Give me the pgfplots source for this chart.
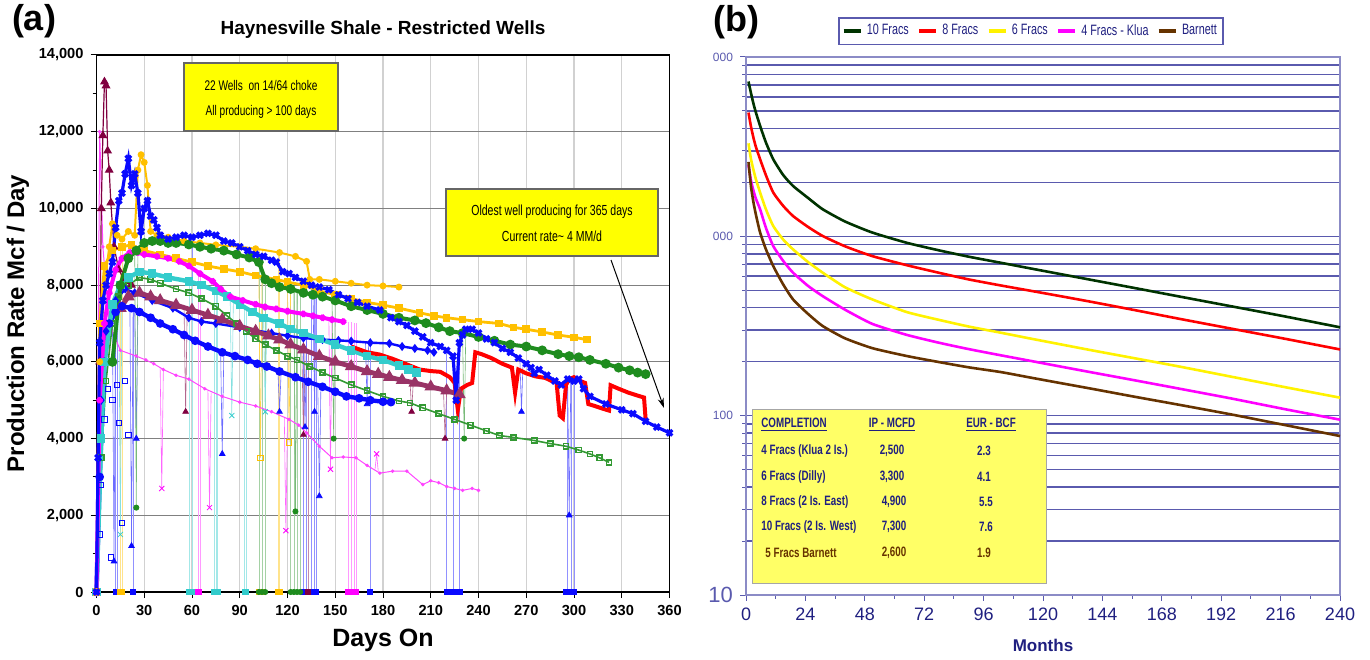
\documentclass[border=0pt]{standalone}
\usepackage{pgfplots}
\pgfplotsset{compat=1.18}
\usepackage{fontspec}
\setmainfont{Liberation Sans}
\newfontfamily\narrow[FakeStretch=0.72]{Liberation Sans}
\usetikzlibrary{arrows.meta}
\definecolor{wblue}{HTML}{0A0AFF}
\definecolor{wgreen}{HTML}{1E8C1E}
\definecolor{wgold}{HTML}{FFC000}
\definecolor{wmag}{HTML}{FF00FF}
\definecolor{wcyan}{HTML}{33CCCC}
\definecolor{wmauve}{HTML}{993366}
\definecolor{wlgreen}{HTML}{339933}
\definecolor{wpink}{HTML}{FF44FF}
\definecolor{wmaroon}{HTML}{800040}
\definecolor{wred}{HTML}{FF0000}
\definecolor{gridb}{HTML}{5A5AAE}
\definecolor{navy}{HTML}{1F1F80}
\definecolor{boxyel}{HTML}{FFFF00}
\definecolor{tabyel}{HTML}{FFFF66}
\definecolor{dkgreen}{HTML}{003300}
\definecolor{brownb}{HTML}{663300}
\begin{document}
\begin{tikzpicture}
\path[use as bounding box] (0,0) rectangle (685pt,329.5pt);
% ---------------- (a) ----------------
\begin{axis}[at={(48.25pt,33.5pt)}, anchor=south west, scale only axis,
 width=286.5pt, height=268.5pt, clip=false,
 xmin=0, xmax=360, ymin=0, ymax=14000,
 xtick={0,30,...,360}, ytick={0,2000,...,14000}, minor y tick num=1,
 scaled y ticks=false, scaled x ticks=false,
 xmajorgrids, ymajorgrids,
 x grid style={draw=black!18, line width=0.6pt},
 y grid style={draw=black!50, line width=0.6pt},
 tick align=outside, tick pos=left, tick style={black, line width=0.5pt},
 major tick length=3pt, minor tick length=2pt,
 axis line style={black, line width=0.9pt},
 ticklabel style={font=\bfseries\fontsize{7.3}{8}\selectfont},
 /pgf/number format/1000 sep={,}, /pgf/number format/assume math mode=true,
 xlabel={Days On}, ylabel={Production Rate Mcf / Day},
 xlabel style={font=\bfseries\fontsize{12.5}{13}\selectfont, at={(axis description cs:0.5,-0.09)}, anchor=center},
 ylabel style={font=\bfseries\fontsize{12}{13}\selectfont, at={(axis description cs:-0.137,0.5)}, anchor=center},
 every axis plot/.append style={mark options={solid}},
]
% shut-in drops to zero
\addplot[ycomb, wblue!45, line width=0.3pt] coordinates {(12,7300)(13,7350)(23,7400)(60,9250)(130,6620)(132,6600)(135,8000)(137,7950)(138,7900)(172,6500)(220,6300)(224,6150)(228,6500)(296,5550)(298,5500)(300,5500)};
\addplot[ycomb, wcyan!45, line width=0.3pt] coordinates {(58,8100)(60,8080)(74,7850)(75,7840)(76,7830)(93,7450)(94,7430)};
\addplot[ycomb, wgold!45, line width=0.3pt] coordinates {(15,9200)(16,9200)(102,8950)(104,8930)(114,8860)(115,8850)};
\addplot[ycomb, wgreen!40, line width=0.3pt] coordinates {(102,8600)(104,8400)(106,8150)(122,7900)(124,7880)(126,7860)(128,7840)};
\addplot[ycomb, wmag!40, line width=0.3pt] coordinates {(64,8300)(65,8280)(158,7040)(160,7030)(162,7020)(163,7010)};
\addplot[ycomb, wmaroon!45, line width=0.3pt] coordinates {(133,6300)};
% partial drops
\addplot[wblue!60, line width=0.3pt, unbounded coords=jump] coordinates {(10,7200)(11,800)(12,7300) (nan,nan) (21,7400)(22,1200)(23,7400) (nan,nan) (24,7400)(25,4000)(26,7350) (nan,nan) (78,6260)(79,3600)(80,6250) (nan,nan) (114,5760)(115,4700)(116,5750) (nan,nan) (130,6620)(131,4300)(132,6600) (nan,nan) (136,7950)(137,4700)(138,7900) (nan,nan) (139,5450)(140,2500)(141,5440) (nan,nan) (169,6510)(170,4900)(171,6500) (nan,nan) (266,6100)(267,4700)(268,6050) (nan,nan) (296,5500)(297,2000)(298,5500)};
\addplot[wmag!60, line width=0.3pt, unbounded coords=jump] coordinates {(40,5850)(41,2700)(42,5800) (nan,nan) (70,5250)(71,2200)(72,5200) (nan,nan) (118,4550)(119,1600)(120,4520) (nan,nan) (146,7100)(147,3200)(148,7100) (nan,nan) (175,3200)(176,3600)(177,3150)};
\addplot[wgreen!60, line width=0.3pt, unbounded coords=jump] coordinates {(24,8900)(25,2200)(26,8900) (nan,nan) (124,7880)(125,2100)(126,7870) (nan,nan) (148,7620)(149,4000)(150,7600) (nan,nan) (230,6750)(231,4000)(232,6750)};
\addplot[wmaroon!60, line width=0.3pt, unbounded coords=jump] coordinates {(55,7420)(56,4700)(57,7400) (nan,nan) (129,6330)(130,4100)(131,6320) (nan,nan) (197,5480)(198,4700)(199,5460) (nan,nan) (218,5270)(219,4000)(220,5260)};
\addplot[wcyan!60, line width=0.3pt, unbounded coords=jump] coordinates {(14,7900)(15,1500)(16,8000) (nan,nan) (84,7650)(85,4600)(86,7620) (nan,nan) (105,7150)(106,4700)(107,7120)};
\addplot[wgold!70, line width=0.3pt, unbounded coords=jump] coordinates {(102,8250)(103,3500)(104,8240) (nan,nan) (120,8080)(121,3900)(122,8070)};
% marks at the bottom of drops
\addplot[only marks, mark=triangle*, mark size=1.6pt, wblue] coordinates {(11,800)(22,1200)(25,4000)(79,3600)(115,4700)(131,4300)(137,4700)(140,2500)(170,4900)(267,4700)(297,2000)};
\addplot[only marks, mark=x, mark size=1.8pt, wmag] coordinates {(41,2700)(71,2200)(119,1600)(147,3200)(176,3600)};
\addplot[only marks, mark=*, mark size=1.3pt, wgreen] coordinates {(25,2200)(125,2100)(149,4000)(231,4000)};
\addplot[only marks, mark=triangle*, mark size=1.6pt, wmaroon] coordinates {(56,4700)(130,4100)(198,4700)(219,4000)};
\addplot[only marks, mark=x, mark size=1.8pt, wcyan] coordinates {(15,1500)(85,4600)(106,4700)};
\addplot[only marks, mark=square, mark size=1.4pt, wgold] coordinates {(103,3500)(121,3900)};
\addplot[only marks, mark=square, mark size=1.3pt, wblue] coordinates {(2,1500)(3,2800)(5,4500)(7,5300)(9,900)(10,5000)(13,5400)(14,4400)(16,1800)(18,5500)(20,4100)};
% zero markers
\addplot[only marks, mark=square*, mark size=1.3pt, wblue] coordinates {(12,0)(13,0)(23,0)(130,0)(132,0)(135,0)(137,0)(138,0)(172,0)(220,0)(221,0)(222,0)(223,0)(224,0)(225,0)(226,0)(227,0)(228,0)(295,0)(296,0)(297,0)(298,0)(299,0)(300,0)};
\addplot[only marks, mark=square*, mark size=1.3pt, wcyan] coordinates {(58,0)(60,0)(74,0)(75,0)(76,0)(93,0)(94,0)};
\addplot[only marks, mark=square*, mark size=1.3pt, wgold] coordinates {(15,0)(16,0)(102,0)(104,0)(114,0)(115,0)};
\addplot[only marks, mark=*, mark size=1.3pt, wgreen] coordinates {(102,0)(104,0)(106,0)(122,0)(124,0)(126,0)(128,0)};
\addplot[only marks, mark=square*, mark size=1.3pt, wmag] coordinates {(64,0)(158,0)(159,0)(160,0)(161,0)(162,0)(163,0)};
\addplot[only marks, mark=square*, mark size=1.3pt, wmaroon] coordinates {(133,0)};
% wells
\addplot[wpink, line width=0.5pt, mark=*, mark size=0.6pt] coordinates {(0,0)(2,12000)(4,9000)(8,7000)(15,6300)(25,6150)(31,6050)(36,5950)(42,5800)(50,5650)(58,5550)(68,5300)(79,5100)(90,4950)(100,4850)(110,4700)(121,4500)(127,4350)(132,4150)(140,3800)(148,3500)(155,3520)(163,3500)(170,3300)(178,3100)(186,3150)(195,3150)(205,2800)(210,2900)(215,2850)(220,2750)(225,2700)(230,2650)(236,2700)(240,2650)};
\addplot[wmaroon, line width=0.6pt, mark=triangle*, mark size=2pt] coordinates {(0,0)(2,6000)(3,10000)(4,11900)(5,13300)(6,13200)(7,11500)(8,11000)(9,10150)(11,9000)(14,8400)(18,8100)(22,8000)};
\addplot[wlgreen, line width=0.8pt, mark=square, mark size=1.3pt] coordinates {(0,0)(3,3500)(6,5500)(10,7000)(14,7700)(20,8000)(27,8200)(34,8150)(40,8050)(50,7900)(58,7800)(66,7650)(75,7450)(82,7200)(88,7000)(94,6800)(100,6600)(106,6450)(113,6300)(120,6150)(126,6050)(134,5880)(142,5720)(150,5580)(160,5400)(170,5250)(180,5100)(190,4980)(197,4930)(205,4800)(215,4650)(225,4500)(235,4350)(245,4200)(253,4080)(262,4030)(275,3950)(285,3870)(295,3800)(303,3700)(310,3600)(316,3500)(322,3380)};
\addplot[wblue, line width=1.2pt, mark=diamond*, mark size=1.3pt] coordinates {(0,0)(3,5000)(6,6800)(12,7600)(18,7900)(24,7800)(35,7600)(48,7400)(58,7150)(66,7050)(75,7000)(90,6900)(100,6820)(110,6750)(120,6680)(130,6620)(142,6580)(152,6560)(160,6540)(172,6500)(184,6480)(192,6400)(200,6350)(208,6300)(212,6250)};
\addplot[wmauve, line width=2.4pt, mark=triangle*, mark size=1.3pt] coordinates {(15,7400)(20,7700)(27,7800)(34,7700)(40,7600)(50,7480)(60,7350)(70,7220)(79,7100)(90,6930)(100,6800)(108,6680)(115,6580)(122,6450)(130,6320)(140,6150)(150,6000)(160,5880)(170,5750)(177,5680)(184,5600)(192,5520)(200,5450)(210,5350)(220,5250)(228,5150)};
\addplot[wblue, line width=2.2pt, mark=*, mark size=1pt] coordinates {(0,0)(2,3000)(5,6000)(8,7000)(12,7300)(16,7450)(22,7400)(27,7300)(34,7150)(40,7000)(48,6850)(55,6700)(62,6550)(70,6400)(79,6250)(87,6150)(95,6050)(101,5950)(107,5880)(115,5750)(125,5600)(133,5480)(142,5350)(150,5220)(157,5100)(165,5050)(172,5000)(180,4960)(185,4950)};
\addplot[wcyan, line width=2.2pt, mark=square*, mark size=1pt] coordinates {(0,0)(3,4000)(5,6000)(10,7500)(15,8000)(20,8200)(27,8350)(35,8300)(45,8200)(58,8100)(66,8000)(75,7850)(82,7700)(90,7500)(98,7300)(105,7150)(115,7000)(122,6850)(130,6750)(140,6600)(150,6450)(160,6300)(170,6150)(180,6050)(190,5900)(196,5800)(201,5720)};
\addplot[wgold, line width=1.4pt, mark=square*, mark size=1.2pt] coordinates {(0,0)(2,7000)(5,8500)(10,8900)(16,9000)(22,9050)(30,8900)(40,8800)(50,8700)(60,8600)(70,8500)(80,8420)(90,8350)(100,8250)(113,8150)(120,8080)(130,8000)(140,7850)(150,7750)(160,7650)(170,7550)(180,7480)(190,7400)(203,7280)(212,7200)(220,7150)(230,7100)(240,7050)(253,7000)(262,6900)(270,6850)(280,6780)(290,6700)(300,6640)(308,6580)};
\addplot[wgold, line width=1pt, mark=*, mark size=1.2pt] coordinates {(0,0)(2,6000)(5,8000)(8,9000)(10,9600)(13,9300)(16,9200)(20,9400)(24,9300)(26,11000)(28,11400)(30,11200)(32,10600)(34,9400)(38,9300)(45,9250)(55,9150)(65,9100)(75,9050)(90,9000)(100,8950)(115,8850)(125,8750)(132,8620)(134,8150)(140,8150)(150,8100)(160,8050)(170,8000)(180,7980)(190,7950)};
\addplot[wmag, line width=2pt, mark=x, mark size=1.5pt] coordinates {(0,0)(2,5000)(5,7000)(8,7800)(12,8400)(16,8700)(21,8850)(26,8850)(30,8800)(38,8750)(45,8700)(52,8620)(58,8500)(65,8300)(73,8100)(78,7900)(84,7700)(92,7600)(100,7500)(106,7430)(113,7380)(120,7320)(130,7250)(136,7200)(142,7150)(148,7100)(155,7050)};
\addplot[wgreen, line width=2pt, mark=*, mark size=1.4pt] coordinates {(10,6000)(15,8000)(20,8700)(25,8900)(30,9100)(35,9150)(40,9150)(45,9100)(50,9100)(58,9060)(65,9000)(72,8950)(80,8900)(88,8800)(96,8720)(102,8600)(106,8150)(110,8050)(115,7950)(122,7900)(130,7800)(136,7750)(142,7700)(150,7600)(160,7450)(170,7350)(180,7250)(190,7150)(200,7080)(207,7010)(215,6900)(222,6800)(230,6750)(240,6650)(250,6550)(260,6450)(270,6400)(280,6300)(290,6200)(297,6150)(303,6120)(310,6050)(320,5950)(328,5850)(335,5780)(340,5720)(345,5680)};
\addplot[wred, line width=2pt] coordinates {(160,6400)(170,6250)(178,6190)(186,6080)(194,5950)(203,5800)(210,5760)(216,5740)(222,5600)(225,5450)(227,4750)(229,5300)(233,5400)(236,5450)(238,6250)(242,6200)(248,6100)(255,5950)(261,5850)(263,5200)(265,5800)(270,5700)(276,5620)(282,5580)(286,5500)(289,5480)(291,4600)(293,4530)(295,5400)(297,5550)(300,5600)(304,5500)(307,5450)(309,4900)(313,4850)(318,4780)(322,4730)(323,5390)(328,5300)(334,5200)(340,5120)(344,5070)(345,4500)};
\addplot[wblue, line width=1.6pt, mark=x, mark size=2pt] coordinates {(0,0)(1,3500)(2,6500)(4,7600)(6,8000)(8,8300)(10,8600)(12,9500)(14,10200)(16,10400)(18,10900)(20,11300)(22,10600)(24,10900)(26,10400)(28,9400)(30,10000)(32,10200)(34,9800)(36,9700)(38,9500)(40,9300)(45,9200)(50,9250)(55,9300)(60,9250)(65,9300)(70,9350)(75,9300)(80,9150)(85,9100)(90,9000)(95,8900)(100,8800)(105,8750)(110,8650)(113,8600)(117,8350)(121,8300)(125,8200)(130,8100)(135,8000)(140,7950)(146,7880)(152,7750)(158,7650)(164,7550)(170,7450)(178,7350)(185,7150)(190,7050)(195,6950)(200,6800)(205,6650)(210,6500)(216,6400)(220,6300)(224,6150)(226,5000)(228,6500)(230,6700)(232,6850)(236,6850)(240,6750)(245,6600)(250,6500)(255,6350)(260,6250)(265,6100)(270,5950)(273,5850)(275,5700)(278,5800)(283,5650)(288,5500)(292,5400)(296,5550)(300,5500)(303,5550)(306,5300)(310,5100)(320,4900)(330,4750)(337,4650)(345,4450)(352,4300)(360,4150)};
\end{axis}
% ---------------- (b) ----------------
\begin{axis}[at={(373pt,32pt)}, anchor=south west, scale only axis,
 width=297pt, height=269pt,
 ymode=log, xmin=0, xmax=240, ymin=10, ymax=10000,
 xtick={0,24,...,240}, minor x tick num=1,
 ytick={10,100,1000,10000},
 yticklabels={{\fontsize{11}{11}\selectfont 10},{\fontsize{6}{6}\selectfont 100},{\fontsize{6}{6}\selectfont 000},{\fontsize{6}{6}\selectfont 000}},
 yticklabel style={text=gridb},
 ymajorgrids, yminorgrids,
 major grid style={draw=gridb, line width=0.8pt},
 minor grid style={draw=gridb, line width=0.8pt},
 axis line style={draw=gridb!70, line width=0.8pt},
 tick align=outside, tick pos=left, tick style={gridb, line width=0.5pt},
 major tick length=3pt, minor tick length=2pt,
 xticklabel style={font=\fontsize{9}{10}\selectfont, text=navy},
 /pgf/number format/assume math mode=true,
 xlabel={Months},
 xlabel style={font=\bfseries\fontsize{8.5}{9}\selectfont, text=navy, at={(axis description cs:0.5,-0.093)}, anchor=center},
 legend style={at={(0.48,1.048)}, anchor=center, legend columns=5, draw=gridb, line width=0.8pt,
   font=\narrow\fontsize{7.5}{8}\selectfont, text=navy, inner sep=1.2pt,
   /tikz/every even column/.append style={column sep=2pt}},
 legend image code/.code={\draw[#1, line width=2.2pt] (0cm,0cm) -- (0.3cm,0cm);},
 every axis plot/.append style={smooth, tension=0.35, line width=1.3pt},
]
\addplot[dkgreen] coordinates {(1,7300)(2,6300)(3,5500)(4,4900)(5.7,4130)(8,3350)(11,2690)(15,2200)(19,1910)(25,1640)(31,1415)(40,1210)(51,1050)(65,920)(78,835)(90,770)(103,712)(115,662)(127,616)(140,570)(157,515)(175,462)(197,405)(218,357)(240,311)};
\addlegendentry{10 Fracs}
\addplot[wred] coordinates {(1,4900)(2,4100)(3,3550)(4,3150)(5.7,2690)(8,2200)(11,1755)(15,1480)(19,1298)(25,1130)(31,1004)(40,880)(51,776)(65,690)(78,626)(90,575)(103,532)(115,497)(127,464)(140,430)(157,388)(175,347)(197,304)(218,268)(240,234)};
\addlegendentry{8 Fracs}
\addplot[yellow] coordinates {(1,3300)(2,2700)(3,2350)(4,2080)(5.7,1755)(8,1420)(11,1142)(15,960)(19,846)(25,720)(31,627)(40,520)(51,445)(65,378)(78,342)(90,314)(103,290)(115,269)(127,250)(140,231)(157,209)(175,188)(197,164)(218,144)(240,126)};
\addlegendentry{6 Fracs}
\addplot[wmag] coordinates {(1,2500)(2,2050)(3,1800)(4,1620)(5.7,1415)(8,1120)(11,883)(15,730)(19,627)(25,530)(31,464)(40,390)(51,325)(65,282)(78,255)(90,235)(103,217)(115,202)(127,188)(140,174)(157,157.5)(175,141.5)(197,124)(218,108.5)(240,95)};
\addlegendentry{4 Fracs - Klua}
\addplot[brownb] coordinates {(1,2600)(2,1900)(3,1550)(4,1320)(5.7,1050)(8,850)(11,683)(15,540)(19,445)(25,370)(31,316)(40,270)(51,238)(65,215)(78,199)(90,186)(103,175)(115,163)(127,152)(140,141)(157,127.5)(175,115)(197,101)(218,88.5)(240,77)};
\addlegendentry{Barnett}
\end{axis}
% ---------------- annotations ----------------
\node[font=\bfseries\fontsize{18}{18}\selectfont] at (17pt,319pt) {(a)};
\node[font=\bfseries\fontsize{9.5}{10}\selectfont] at (191.5pt,314.5pt) {Haynesville Shale - Restricted Wells};
\node[font=\bfseries\fontsize{18}{18}\selectfont] at (368pt,318.5pt) {(b)};
\draw[fill=boxyel, draw=black!60, line width=0.6pt] (92pt,298pt) rectangle (169pt,264pt);
\node[font=\narrow\fontsize{7}{8}\selectfont] at (130.5pt,286.5pt) {22 Wells\ \ on 14/64 choke};
\node[font=\narrow\fontsize{7}{8}\selectfont] at (130.5pt,273.5pt) {All producing > 100 days};
\draw[fill=boxyel, draw=black!60, line width=0.6pt] (223pt,235pt) rectangle (329pt,201.5pt);
\node[font=\narrow\fontsize{7.3}{8}\selectfont] at (276pt,223.5pt) {Oldest well producing for 365 days};
\node[font=\narrow\fontsize{7.3}{8}\selectfont] at (276pt,211.5pt) {Current rate\textasciitilde{} 4 MM/d};
\draw[-{Stealth[length=5pt,width=3pt]}, line width=0.5pt] (305.5pt,199.5pt) -- (332pt,125.5pt);
\draw[fill=tabyel, draw=black!35, line width=0.5pt] (376pt,124.5pt) rectangle (523pt,38pt);
\begin{scope}[every node/.style={font=\narrow\bfseries\fontsize{6.8}{7}\selectfont, text=navy, inner sep=0pt}]
\node[anchor=west] at (380.5pt,117pt) {\underline{COMPLETION}};
\node at (446pt,117pt) {\underline{IP - MCFD}};
\node at (495.5pt,117pt) {\underline{EUR - BCF}};
\node[anchor=west] at (380.5pt,104pt) {4 Fracs (Klua 2 Is.)};
\node at (446pt,104pt) {2,500}; \node at (492pt,104pt) {2.3};
\node[anchor=west] at (380.5pt,91.15pt) {6 Fracs (Dilly)};
\node at (446pt,91.15pt) {3,300}; \node at (492pt,91.15pt) {4.1};
\node[anchor=west] at (380.5pt,78.65pt) {8 Fracs (2 Is. East)};
\node at (447pt,78.65pt) {4,900}; \node at (493pt,78.65pt) {5.5};
\node[anchor=west] at (380.5pt,65.85pt) {10 Fracs (2 Is. West)};
\node at (447pt,65.85pt) {7,300}; \node at (493pt,65.85pt) {7.6};
\node[anchor=west, text=brownb] at (382.5pt,52.85pt) {5 Fracs Barnett};
\node[text=brownb] at (447pt,52.85pt) {2,600}; \node[text=brownb] at (492pt,52.85pt) {1.9};
\end{scope}
\end{tikzpicture}
\end{document}
